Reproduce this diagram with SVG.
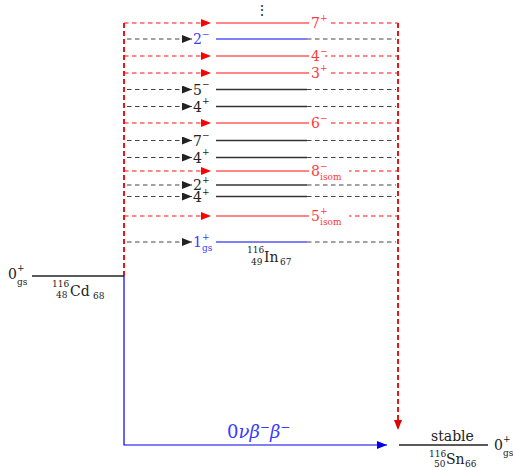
<svg xmlns="http://www.w3.org/2000/svg" width="513" height="468" viewBox="0 0 513 468" font-family="'DejaVu Serif', serif">
<style>
text{font-family:"DejaVu Serif",serif;}
.m{font-size:14px;}
.s{font-size:9px;}
.r{fill:#ff3a3a;}
.k{fill:#222;}
.b{fill:#3b3bff;}
.rd{stroke:#ff1010;stroke-width:1.2;stroke-dasharray:4.5,3.5;fill:none;}
.rs{stroke:#ff1010;stroke-width:1.2;fill:none;}
.kd{stroke:#444;stroke-width:1.2;stroke-dasharray:4.5,3.5;fill:none;}
.ks{stroke:#333;stroke-width:1.4;fill:none;}
.bs{stroke:#0000ee;stroke-width:1.2;fill:none;}
.vr{stroke:#e00000;stroke-width:1.8;stroke-dasharray:5,3;fill:none;}
.wb{fill:#fff;}
</style>
<defs>
<marker id="ar" viewBox="0 0 10 8" refX="10" refY="4" markerWidth="10" markerHeight="8" markerUnits="userSpaceOnUse" orient="auto"><path d="M0,0L10,4L0,8z" fill="#ff0000"/></marker>
<marker id="ak" viewBox="0 0 10 8" refX="10" refY="4" markerWidth="10" markerHeight="8" markerUnits="userSpaceOnUse" orient="auto"><path d="M0,0L10,4L0,8z" fill="#222"/></marker>
<marker id="ab" viewBox="0 0 10 8" refX="10" refY="4" markerWidth="11" markerHeight="8" markerUnits="userSpaceOnUse" orient="auto"><path d="M0,0L10,4L0,8z" fill="#0000ee"/></marker>
<marker id="av" viewBox="0 0 10 8" refX="10" refY="4" markerWidth="10" markerHeight="8" markerUnits="userSpaceOnUse" orient="auto"><path d="M0,0L10,4L0,8z" fill="#e00000"/></marker>
</defs>

<g id="connectors">
<path class="vr" d="M124,23V276"/>
<path class="vr" d="M398,23V430" marker-end="url(#av)"/>
<path class="bs" d="M124,276V445H387" marker-end="url(#ab)"/>
<path class="rd" d="M124,23H211" marker-end="url(#ar)"/>
<path class="kd" d="M127,39H192" marker-end="url(#ak)"/>
<path class="rd" d="M124,56H211" marker-end="url(#ar)"/>
<path class="rd" d="M124,73H211" marker-end="url(#ar)"/>
<path class="kd" d="M127,89.5H192" marker-end="url(#ak)"/>
<path class="kd" d="M127,106.5H192" marker-end="url(#ak)"/>
<path class="rd" d="M124,123H211" marker-end="url(#ar)"/>
<path class="kd" d="M127,140.5H192" marker-end="url(#ak)"/>
<path class="kd" d="M127,157.5H192" marker-end="url(#ak)"/>
<path class="rd" d="M124,171H211" marker-end="url(#ar)"/>
<path class="kd" d="M127,185H192" marker-end="url(#ak)"/>
<path class="kd" d="M127,196.5H192" marker-end="url(#ak)"/>
<path class="rd" d="M124,216H211" marker-end="url(#ar)"/>
<path class="kd" d="M127,242H192" marker-end="url(#ak)"/>
<path class="rd" d="M307,23H398"/>
<path class="kd" d="M307,39H396"/>
<path class="rd" d="M307,56H398"/>
<path class="rd" d="M307,73H398"/>
<path class="kd" d="M307,89.5H396"/>
<path class="kd" d="M307,106.5H396"/>
<path class="rd" d="M307,123H398"/>
<path class="kd" d="M307,140.5H396"/>
<path class="kd" d="M307,157.5H396"/>
<path class="rd" d="M307,171H398"/>
<path class="kd" d="M307,185H396"/>
<path class="kd" d="M307,196.5H396"/>
<path class="rd" d="M307,216H398"/>
<path class="kd" d="M307,242H396"/>
</g>

<g id="dots"><text class="m k" x="262" y="15" text-anchor="middle">⋮</text></g>

<g id="In116-levels">
<g id="L7p"><path class="rs" d="M216,23H307"/><rect class="wb" x="309" y="14" width="19" height="16"/><text class="m r" x="311" y="28">7</text><text class="s r" x="320" y="20.5">+</text></g>
<g id="L2m"><path class="bs" d="M216,39H307"/><text class="m b" x="193" y="44">2</text><text class="s b" x="202" y="36.5">−</text></g>
<g id="L4m"><path class="rs" d="M216,56H307"/><rect class="wb" x="309" y="47" width="16" height="16"/><text class="m r" x="311" y="61">4</text><text class="s r" x="320" y="53.5">−</text></g>
<g id="L3p"><path class="rs" d="M216,73H307"/><rect class="wb" x="309" y="64" width="19" height="16"/><text class="m r" x="311" y="78">3</text><text class="s r" x="320" y="70.5">+</text></g>
<g id="L5m"><path class="ks" d="M216,89.5H307"/><text class="m k" x="193" y="94.5">5</text><text class="s k" x="202" y="87">−</text></g>
<g id="L4p1"><path class="ks" d="M216,106.5H307"/><text class="m k" x="193" y="111.5">4</text><text class="s k" x="202" y="104">+</text></g>
<g id="L6m"><path class="rs" d="M216,123H307"/><rect class="wb" x="309" y="114" width="19" height="16"/><text class="m r" x="311" y="128">6</text><text class="s r" x="320" y="120.5">−</text></g>
<g id="L7m"><path class="ks" d="M216,140.5H307"/><text class="m k" x="193" y="145.5">7</text><text class="s k" x="202" y="138">−</text></g>
<g id="L4p2"><path class="ks" d="M216,157.5H307"/><text class="m k" x="193" y="162.5">4</text><text class="s k" x="202" y="155">+</text></g>
<g id="L8m"><path class="rs" d="M216,171H307"/><rect class="wb" x="309" y="162" width="40" height="20"/><text class="m r" x="311" y="176">8</text><text class="s r" x="320" y="168.5">−</text><text class="s r" x="320" y="180">isom</text></g>
<g id="L2p"><path class="ks" d="M216,185H307"/><text class="m k" x="193" y="189.5">2</text><text class="s k" x="202" y="182.5">+</text></g>
<g id="L4p3"><path class="ks" d="M216,196.5H307"/><text class="m k" x="193" y="202">4</text><text class="s k" x="202" y="195">+</text></g>
<g id="L5p"><path class="rs" d="M216,216H307"/><rect class="wb" x="309" y="207" width="40" height="20"/><text class="m r" x="311" y="221">5</text><text class="s r" x="320" y="213.5">+</text><text class="s r" x="320" y="225">isom</text></g>
<g id="L1p"><path class="bs" d="M216,242H307"/><text class="m b" x="193" y="247">1</text><text class="s b" x="202" y="239.5">+</text><text class="s b" x="202" y="251">gs</text></g>
<g id="In116-label"><text class="s k" x="247" y="253">116</text><text class="s k" x="251" y="265">49</text><text class="m k" x="264" y="262">In</text><text class="s k" x="280" y="265">67</text></g>
</g>

<g id="Cd116">
<path class="ks" d="M32,276H124" style="stroke:#222"/>
<text class="m k" x="8" y="279">0</text><text class="s k" x="17" y="271">+</text><text class="s k" x="17" y="285">gs</text>
<text class="s k" x="52" y="287">116</text><text class="s k" x="56" y="298">48</text><text class="m k" x="70" y="296">Cd</text><text class="s k" x="93" y="299">68</text>
</g>

<g id="Sn116">
<path class="ks" d="M399,445H488" style="stroke:#222"/>
<text class="m k" x="431" y="441">stable</text>
<text class="m k" x="494" y="449.5">0</text><text class="s k" x="503" y="442">+</text><text class="s k" x="503" y="456">gs</text>
<text class="s k" x="429" y="457">116</text><text class="s k" x="434" y="467">50</text><text class="m k" x="446" y="464">Sn</text><text class="s k" x="465" y="467">66</text>
</g>

<g id="decay-label"><text class="b" x="227" y="438" style="font-size:18px"><tspan>0</tspan><tspan font-style="italic">νβ</tspan><tspan font-size="12" dy="-7">−</tspan><tspan font-style="italic" dy="7">β</tspan><tspan font-size="12" dy="-7">−</tspan></text></g>
</svg>
